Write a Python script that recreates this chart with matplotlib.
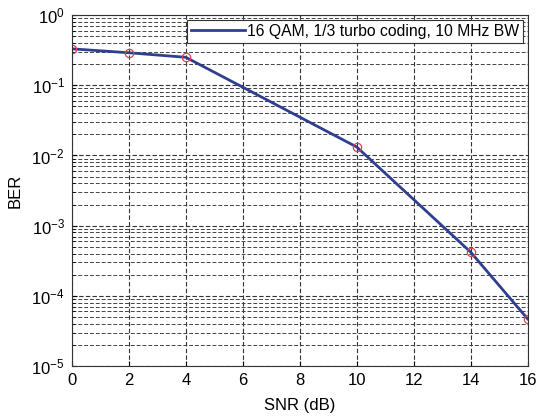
import numpy as np
import matplotlib
matplotlib.use("Agg")
import matplotlib.pyplot as plt

plt.rcParams['font.family'] = ['Liberation Sans', 'DejaVu Sans']

# data
snr = [0, 2, 4, 10, 14, 16]
ber = [0.33, 0.29, 0.25, 0.0132, 4.2e-4, 4.7e-5]
label = "16 QAM, 1/3 turbo coding, 10 MHz BW"
xticks = [0, 2, 4, 6, 8, 10, 12, 14, 16]

fig = plt.figure(figsize=(5.44, 4.17), dpi=100)
ax = fig.add_axes([0.132, 0.122, 0.838, 0.842])

ax.semilogy(snr, ber, color="#2f3f8f", lw=2, label=label)
ax.semilogy(snr, ber, "o", mfc="none", mec="#d9434f", ms=6, mew=0.9)

ax.set_xlim(0, 16)
ax.set_ylim(1e-5, 1)
ax.set_xticks(xticks)
ax.yaxis.set_major_locator(matplotlib.ticker.LogLocator(base=10, numticks=10))
ax.yaxis.set_minor_locator(matplotlib.ticker.LogLocator(base=10, subs=np.arange(2, 10), numticks=20))
ax.yaxis.set_minor_formatter(matplotlib.ticker.NullFormatter())

ax.grid(True, which="major", ls=(0, (4, 2)), color="#333333", lw=0.8)
ax.grid(True, which="minor", axis="y", ls=(0, (4, 2)), color="#444444", lw=0.7)
ax.tick_params(which="both", direction="in", labelsize=12, pad=5)
ax.tick_params(which="minor", length=2)
for s in ax.spines.values():
    s.set_color("#333333")

ax.set_xlabel("SNR (dB)", fontsize=12, labelpad=7)
ax.set_ylabel("BER", fontsize=12, labelpad=6)

leg = ax.legend(loc="upper right", fontsize=11.3, fancybox=False, framealpha=1,
                edgecolor="#333333", handlelength=3.4, borderaxespad=0.3,
                borderpad=0.25, handletextpad=0.15)
leg.get_frame().set_linewidth(0.8)

fig.savefig("out.png", dpi=100)
